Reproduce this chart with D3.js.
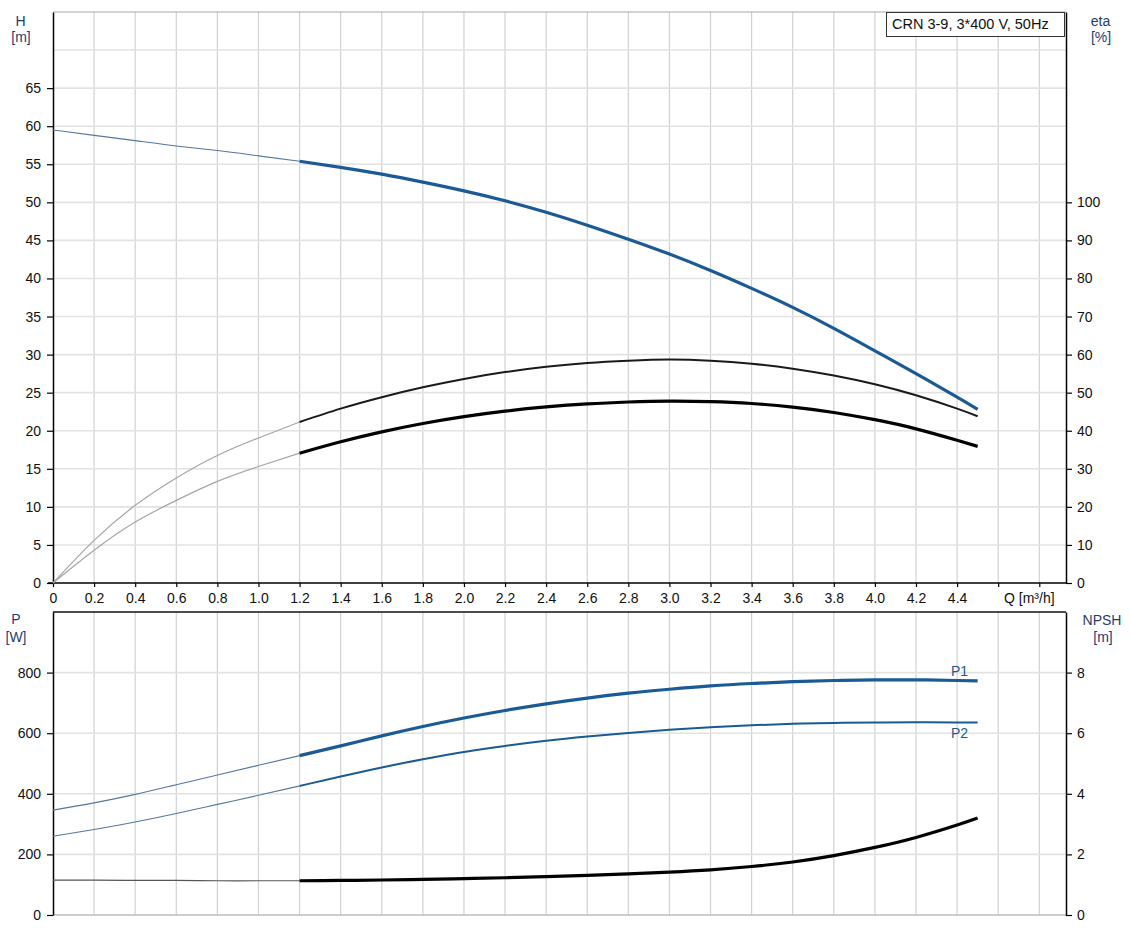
<!DOCTYPE html>
<html>
<head>
<meta charset="utf-8">
<script src="https://cdn.jsdelivr.net/npm/d3@7"></script>
<style>
  html, body { margin: 0; padding: 0; background: #fff; }
  svg { display: block; font-family: "Liberation Sans", Arial, sans-serif; }
</style>
</head>
<body>
<svg id="chart" width="1130" height="939"></svg>
<script>
// ---------- data ----------
const qThin = [0, 0.2, 0.4, 0.6, 0.8, 1.0, 1.2];
const qMain = [1.2, 1.4, 1.6, 1.8, 2.0, 2.2, 2.4, 2.6, 2.8, 3.0, 3.2, 3.4, 3.6, 3.8, 4.0, 4.2, 4.4, 4.5];

const headThin = [59.5, 58.8, 58.1, 57.4, 56.8, 56.1, 55.4];
const headMain = [55.4, 54.6, 53.7, 52.65, 51.5, 50.2, 48.7, 47.0, 45.15, 43.2, 41.05, 38.7, 36.2, 33.45, 30.5, 27.5, 24.4, 22.8];

const etaUpperThin = [0, 11.2, 20.4, 27.6, 33.5, 38.1, 42.3];
const etaUpperMain = [42.3, 45.8, 48.8, 51.4, 53.6, 55.4, 56.8, 57.8, 58.4, 58.7, 58.4, 57.6, 56.3, 54.5, 52.2, 49.3, 45.8, 43.8];

const etaLowerThin = [0, 8.6, 16.0, 21.7, 26.7, 30.6, 34.1];
const etaLowerMain = [34.1, 37.1, 39.7, 41.9, 43.7, 45.15, 46.25, 47.05, 47.55, 47.8, 47.65, 47.15, 46.2, 44.8, 42.9, 40.5, 37.5, 35.9];

const p1Thin = [346, 370, 398, 430, 462, 494, 526];
const p1Main = [526, 558, 591, 622, 650, 675, 697, 716, 732, 745, 756, 764, 770, 774, 776, 776, 774, 772.5];

const p2Thin = [260, 282, 307, 335, 365, 395, 426];
const p2Main = [426, 457, 487, 514, 538, 558, 575, 589, 601, 611, 619.5, 626, 631, 634, 635.5, 636, 635.5, 635.2];

const npshThin = [1.15, 1.15, 1.14, 1.14, 1.13, 1.13, 1.13];
const npshMain = [1.13, 1.14, 1.155, 1.175, 1.20, 1.23, 1.265, 1.305, 1.355, 1.415, 1.49, 1.60, 1.75, 1.96, 2.23, 2.56, 2.97, 3.20];

const qTicks = [0, 0.2, 0.4, 0.6, 0.8, 1.0, 1.2, 1.4, 1.6, 1.8, 2.0, 2.2, 2.4, 2.6, 2.8, 3.0, 3.2, 3.4, 3.6, 3.8, 4.0, 4.2, 4.4, 4.6, 4.8];
const qTickLabels = ["0", "0.2", "0.4", "0.6", "0.8", "1.0", "1.2", "1.4", "1.6", "1.8", "2.0", "2.2", "2.4", "2.6", "2.8", "3.0", "3.2", "3.4", "3.6", "3.8", "4.0", "4.2", "4.4", "", ""];
const hTicks = [0, 5, 10, 15, 20, 25, 30, 35, 40, 45, 50, 55, 60, 65];
const hGrid = [5, 10, 15, 20, 25, 30, 35, 40, 45, 50, 55, 60, 65, 70];
const etaTicks = [0, 10, 20, 30, 40, 50, 60, 70, 80, 90, 100];
const pTicks = [0, 200, 400, 600, 800];
const pGrid = [200, 400, 600, 800];
const npshTicks = [0, 2, 4, 6, 8];

const titleText = "CRN 3-9, 3*400 V, 50Hz";

// ---------- layout ----------
const svg = d3.select("#chart");
const L = 53, R = 1066;
const topT = 12, topB = 583;
const botT = 612, botB = 915;
const blue = "#1a5a96";
const titleColor = "#1b3f73";
const gridV = "#cfd2d4", gridH = "#e2e2e2";

const x = d3.scaleLinear().domain([0, 4.93]).range([L, R]);
const yH = d3.scaleLinear().domain([0, 75]).range([topB, topT]);
const yEta = d3.scaleLinear().domain([0, 150]).range([topB, topT]);
const yP = d3.scaleLinear().domain([0, 1000]).range([botB, botT]);
const yN = d3.scaleLinear().domain([0, 10]).range([botB, botT]);

// ---------- grids ----------
function vGrid(y0, y1) {
  svg.append("g").selectAll("line").data(qTicks.filter(d => d > 0)).join("line")
    .attr("x1", d => x(d)).attr("x2", d => x(d))
    .attr("y1", y0).attr("y2", y1)
    .attr("stroke", gridV).attr("stroke-width", 1.2);
}
vGrid(topT, topB);
vGrid(botT, botB);

svg.append("g").selectAll("line").data(hGrid).join("line")
  .attr("x1", L).attr("x2", R)
  .attr("y1", d => yH(d)).attr("y2", d => yH(d))
  .attr("stroke", gridH).attr("stroke-width", 1.6);
svg.append("g").selectAll("line").data(pGrid).join("line")
  .attr("x1", L).attr("x2", R)
  .attr("y1", d => yP(d)).attr("y2", d => yP(d))
  .attr("stroke", gridH).attr("stroke-width", 1.6);

// frame lines
svg.append("line").attr("x1", L).attr("x2", R).attr("y1", topT).attr("y2", topT)
  .attr("stroke", "#a8a8a8").attr("stroke-width", 1.2);
svg.append("line").attr("x1", L).attr("x2", R).attr("y1", botB).attr("y2", botB)
  .attr("stroke", "#bdbdbd").attr("stroke-width", 1.6);
svg.append("line").attr("x1", L).attr("x2", R).attr("y1", botT).attr("y2", botT)
  .attr("stroke", "#111").attr("stroke-width", 1.5);

// ---------- axes ----------
function styleAxis(g) {
  g.selectAll("path").attr("stroke", "#000").attr("stroke-width", 1.5);
  g.selectAll(".tick line").attr("stroke", "#000").attr("stroke-width", 1.2);
  g.selectAll(".tick text").attr("fill", "#111").attr("font-size", 14)
    .attr("font-family", "'Liberation Sans', Arial, sans-serif");
}

const gx = svg.append("g").attr("transform", `translate(0,${topB})`)
  .call(d3.axisBottom(x).tickValues(qTicks).tickFormat((d, i) => qTickLabels[i]).tickSize(4).tickSizeOuter(0).tickPadding(6));
styleAxis(gx);
gx.select("path").attr("d", `M${L - 5},0H${R}`);

const gyH = svg.append("g").attr("transform", `translate(${L},0)`)
  .call(d3.axisLeft(yH).tickValues(hTicks).tickFormat(d3.format("d")).tickSize(6).tickSizeOuter(0).tickPadding(6));
styleAxis(gyH);

const gyEta = svg.append("g").attr("transform", `translate(${R},0)`)
  .call(d3.axisRight(yEta).tickValues(etaTicks).tickFormat(d3.format("d")).tickSize(6).tickSizeOuter(0).tickPadding(5));
styleAxis(gyEta);

const gyP = svg.append("g").attr("transform", `translate(${L},0)`)
  .call(d3.axisLeft(yP).tickValues(pTicks).tickFormat(d3.format("d")).tickSize(6).tickSizeOuter(0).tickPadding(6));
styleAxis(gyP);

const gyN = svg.append("g").attr("transform", `translate(${R},0)`)
  .call(d3.axisRight(yN).tickValues(npshTicks).tickFormat(d3.format("d")).tickSize(6).tickSizeOuter(0).tickPadding(5));
styleAxis(gyN);

// ---------- axis titles ----------
function label(txt, cx, by, color, anchor) {
  svg.append("text").attr("x", cx).attr("y", by).text(txt)
    .attr("fill", color).attr("font-size", 14).attr("text-anchor", anchor || "middle");
}
label("H", 20.5, 26, titleColor);
label("[m]", 21, 42, titleColor);
label("eta", 1100.5, 26, titleColor);
label("[%]", 1101, 42, titleColor);
label("P", 16, 624, titleColor);
label("[W]", 16, 642, titleColor);
label("NPSH", 1102, 625, titleColor);
label("[m]", 1103, 642, titleColor);
label("Q [m³/h]", 1004, 603, "#111", "start");

// ---------- legend box ----------
svg.append("rect").attr("x", 886.5).attr("y", 12.5).attr("width", 178).attr("height", 24)
  .attr("fill", "#fff").attr("stroke", "#333").attr("stroke-width", 1);
svg.append("text").attr("x", 892).attr("y", 29).text(titleText)
  .attr("font-size", 14.5).attr("fill", "#111");

// ---------- curves ----------
function drawCurve(qs, vals, yScale, color, width) {
  const line = d3.line().x(d => x(d[0])).y(d => yScale(d[1])).curve(d3.curveNatural);
  svg.append("path").datum(qs.map((q, i) => [q, vals[i]]))
    .attr("d", line).attr("fill", "none")
    .attr("stroke", color).attr("stroke-width", width)
    .attr("stroke-linecap", "butt").attr("stroke-linejoin", "round");
}

drawCurve(qThin, etaUpperThin, yEta, "#a6a6a6", 1.2);
drawCurve(qThin, etaLowerThin, yEta, "#a6a6a6", 1.2);
drawCurve(qMain, etaUpperMain, yEta, "#1a1a1a", 2);
drawCurve(qMain, etaLowerMain, yEta, "#000", 3.2);
drawCurve(qThin, headThin, yH, "#5577a0", 1.1);
drawCurve(qMain, headMain, yH, blue, 3.2);

drawCurve(qThin, p1Thin, yP, "#5577a0", 1.1);
drawCurve(qThin, p2Thin, yP, "#5577a0", 1.1);
drawCurve(qThin, npshThin, yN, "#555", 1.2);
drawCurve(qMain, p1Main, yP, blue, 3.2);
drawCurve(qMain, p2Main, yP, blue, 2);
drawCurve(qMain, npshMain, yN, "#000", 3.2);

svg.append("text").attr("x", 951).attr("y", 676).text("P1").attr("fill", blue).attr("font-size", 14);
svg.append("text").attr("x", 951).attr("y", 738).text("P2").attr("fill", blue).attr("font-size", 14);
</script>
</body>
</html>
